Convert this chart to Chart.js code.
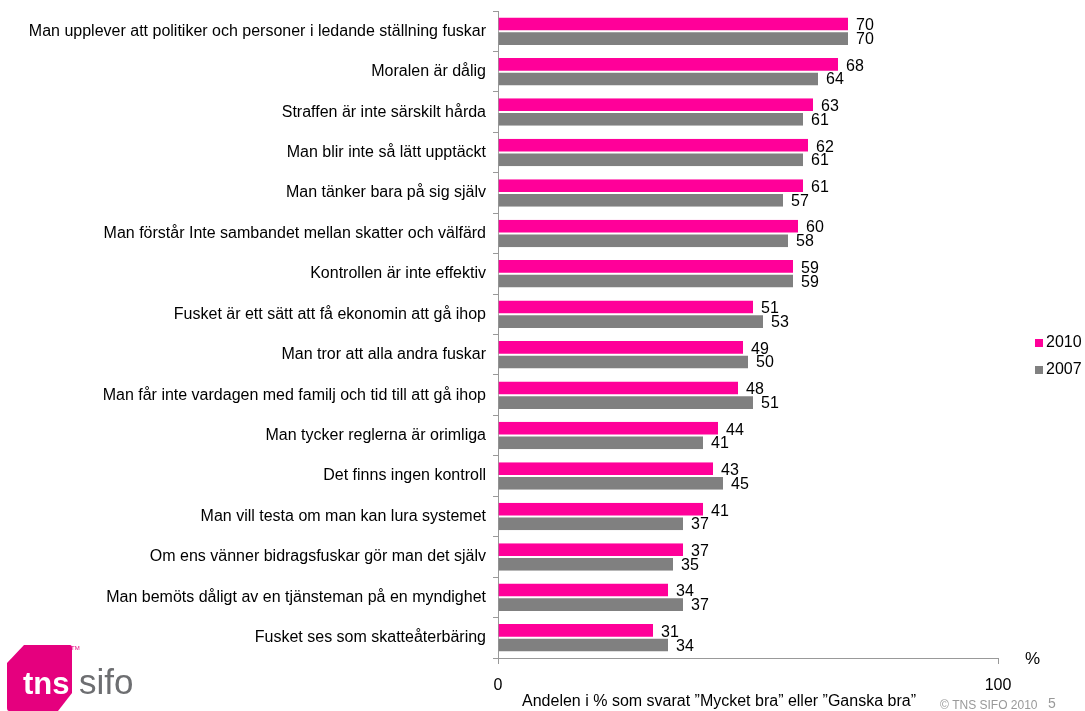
<!DOCTYPE html>
<html>
<head>
<meta charset="utf-8">
<script src="https://cdn.jsdelivr.net/npm/chart.js@4"></script>
<style>
html,body{margin:0;padding:0;background:#fff;}
#wrap{width:1085px;height:711px;position:relative;}
</style>
</head>
<body>
<div id="wrap"><canvas id="c" width="1085" height="711"></canvas></div>
<script>
const categories = [
"Man upplever att politiker och personer i ledande ställning fuskar",
"Moralen är dålig",
"Straffen är inte särskilt hårda",
"Man blir inte så lätt upptäckt",
"Man tänker bara på sig själv",
"Man förstår Inte sambandet mellan skatter och välfärd",
"Kontrollen är inte effektiv",
"Fusket är ett sätt att få ekonomin att gå ihop",
"Man tror att alla andra fuskar",
"Man får inte vardagen med familj och tid till att gå ihop",
"Man tycker reglerna är orimliga",
"Det finns ingen kontroll",
"Man vill testa om man kan lura systemet",
"Om ens vänner bidragsfuskar gör man det själv",
"Man bemöts dåligt av en tjänsteman på en myndighet",
"Fusket ses som skatteåterbäring"
];
const values2010 = [70,68,63,62,61,60,59,51,49,48,44,43,41,37,34,31];
const values2007 = [70,64,61,61,57,58,59,53,50,51,41,45,37,35,37,34];
const seriesNames = ["2010","2007"];
const xTicks = [0,100];

const FONT = "'Liberation Sans', Arial, sans-serif";
const PINK = "#FF0099";
const GRAY = "#808080";

// value labels at bar ends
const valueLabels = {
  id: "valueLabels",
  afterDatasetsDraw(chart){
    const ctx = chart.ctx;
    ctx.save();
    ctx.font = "16px " + FONT;
    ctx.fillStyle = "#000";
    ctx.textBaseline = "middle";
    ctx.textAlign = "left";
    chart.data.datasets.forEach((ds, i) => {
      chart.getDatasetMeta(i).data.forEach((bar, j) => {
        ctx.fillText(ds.data[j], bar.x + 8, bar.y + 1.5);
      });
    });
    ctx.restore();
  }
};

// legend, extra texts and logo
const extras = {
  id: "extras",
  afterDraw(chart){
    const ctx = chart.ctx;
    ctx.save();
    // legend
    const cols = [PINK, GRAY];
    const ly = [343, 370];
    ctx.textBaseline = "middle";
    ctx.textAlign = "left";
    ctx.font = "16px " + FONT;
    seriesNames.forEach((n, i) => {
      ctx.fillStyle = cols[i];
      ctx.fillRect(1035, ly[i] - 4, 8, 8);
      ctx.fillStyle = "#000";
      ctx.fillText(n, 1046, ly[i]);
    });
    // percent sign
    ctx.font = "17px " + FONT;
    ctx.fillText("%", 1025, 659);
    // axis title
    ctx.textAlign = "center";
    ctx.font = "16px " + FONT;
    ctx.fillText("Andelen i % som svarat \u201dMycket bra\u201d eller \u201dGanska bra\u201d", 719, 702);
    // footer
    ctx.fillStyle = "#999";
    ctx.font = "12px " + FONT;
    ctx.textAlign = "left";
    ctx.fillText("\u00a9 TNS SIFO 2010", 940, 706);
    ctx.font = "14px " + FONT;
    ctx.fillText("5", 1048, 704);
    // logo
    ctx.fillStyle = "#E5007E";
    ctx.beginPath();
    ctx.moveTo(24, 645);
    ctx.lineTo(70, 645);
    ctx.quadraticCurveTo(72, 645, 72, 648);
    ctx.lineTo(72, 693);
    ctx.lineTo(58, 711);
    ctx.lineTo(9, 711);
    ctx.quadraticCurveTo(7, 711, 7, 708);
    ctx.lineTo(7, 663);
    ctx.closePath();
    ctx.fill();
    ctx.textBaseline = "alphabetic";
    ctx.fillStyle = "#fff";
    ctx.font = "bold 31px " + FONT;
    ctx.fillText("tns", 23, 694);
    ctx.fillStyle = "#6d6e71";
    ctx.font = "35px " + FONT;
    ctx.fillText("sifo", 79, 694);
    ctx.fillStyle = "#E5007E";
    ctx.font = "6px " + FONT;
    ctx.fillText("TM", 71, 650);
    ctx.restore();
  }
};

new Chart(document.getElementById("c"), {
  type: "bar",
  data: {
    labels: categories,
    datasets: [
      { label: seriesNames[0], data: values2010, backgroundColor: PINK,
        borderColor: "#fff", borderWidth: {top:0,bottom:1,left:0,right:0}, borderSkipped: false },
      { label: seriesNames[1], data: values2007, backgroundColor: GRAY,
        borderColor: "#fff", borderWidth: {top:1,bottom:0,left:0,right:0}, borderSkipped: false }
    ]
  },
  options: {
    indexAxis: "y",
    responsive: false,
    animation: false,
    devicePixelRatio: 1,
    layout: { padding: { left: 0, right: 87, top: 11, bottom: 0 } },
    datasets: { bar: { categoryPercentage: 0.68, barPercentage: 1.0 } },
    plugins: { legend: { display: false }, tooltip: { enabled: false } },
    scales: {
      x: {
        min: 0, max: 100,
        afterBuildTicks(axis){ axis.ticks = xTicks.map(v => ({ value: v })); },
        afterFit(axis){ axis.height = 53; },
        grid: { drawOnChartArea: false, color: "#999", tickLength: 6 },
        border: { color: "#999" },
        ticks: { color: "#000", font: { family: FONT, size: 16 }, padding: 12, maxRotation: 0 }
      },
      y: {
        afterFit(axis){ axis.width = 498; axis.paddingTop = 0; axis.paddingBottom = 0; },
        grid: { drawOnChartArea: false, color: "#999", tickLength: 5, offset: true },
        border: { color: "#999" },
        ticks: { color: "#000", font: { family: FONT, size: 16 }, padding: 7, autoSkip: false }
      }
    }
  },
  plugins: [valueLabels, extras]
});
</script>
</body>
</html>
